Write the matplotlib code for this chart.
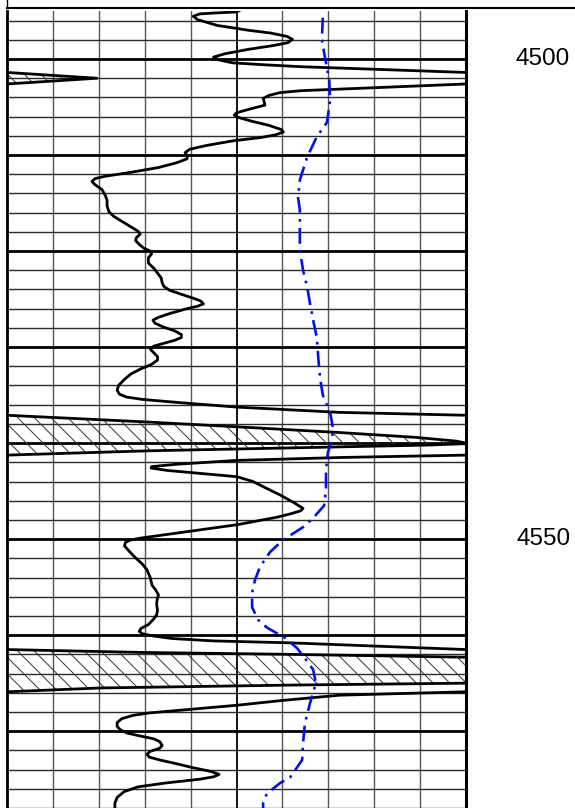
import numpy as np
import matplotlib
matplotlib.use("Agg")
import matplotlib.pyplot as plt
from matplotlib.lines import Line2D

# depth track limits
depth_top = 4495.0
depth_bottom = 4578.0
scale_min, scale_max = 0, 10

# black log curve (values above 10 wrap back onto the track)
gr_depth = [4494.9, 4495.1, 4495.2, 4495.3, 4495.55, 4495.9, 4496.5, 4497.0, 4497.3, 4497.65,
            4497.95, 4498.3, 4498.6, 4499.0, 4499.45, 4499.8, 4500.1, 4500.4, 4500.6, 4500.8,
            4501.4, 4502.0, 4502.6,
            4503.3, 4503.5, 4503.8, 4504.1, 4504.4, 4504.8, 4505.2, 4505.6, 4505.85, 4506.1,
            4506.5, 4506.9, 4507.35, 4507.6, 4507.9, 4508.2, 4508.5, 4509.0, 4509.4, 4509.75,
            4510.1, 4510.4, 4510.8, 4511.3, 4511.8, 4512.2, 4512.45, 4512.75, 4513.1, 4513.6,
            4514.2, 4514.7, 4515.3, 4515.9, 4516.4, 4516.9, 4517.5, 4517.95, 4518.25, 4518.6,
            4518.9, 4519.3, 4519.7, 4520.0, 4520.3, 4520.7, 4521.25, 4521.8, 4522.3, 4522.8,
            4523.3, 4523.7, 4524.1, 4524.5, 4524.9, 4525.2, 4525.5, 4525.75, 4526.0, 4526.5,
            4526.9, 4527.2, 4527.5, 4527.9, 4528.3, 4528.7, 4529.0, 4529.3, 4529.6, 4529.9,
            4530.2, 4530.6, 4531.0, 4531.35, 4531.8, 4532.3, 4532.8, 4533.4, 4534.0, 4534.5,
            4534.9, 4535.2, 4535.45, 4535.8, 4536.25, 4536.8, 4537.1,
            4537.8, 4538.3, 4538.9, 4539.4, 4539.8, 4540.05, 4540.2, 4540.5, 4540.8, 4541.25,
            4541.5, 4541.8, 4542.2, 4542.45, 4542.6, 4542.85, 4543.5, 4544.0, 4544.7, 4545.4,
            4546.2, 4546.8, 4547.05, 4547.4, 4547.7, 4548.5, 4549.3, 4549.9, 4550.1, 4550.35,
            4550.7, 4551.2, 4551.9, 4552.6, 4553.2, 4554.0, 4554.8, 4555.3, 4555.8, 4556.3,
            4556.8, 4557.4, 4557.9, 4558.4, 4558.9, 4559.3, 4559.6, 4559.85, 4560.1, 4560.35,
            4560.6, 4560.8, 4561.5,
            4561.8, 4562.0, 4562.3, 4563.6, 4565.0, 4565.2, 4565.5, 4565.9,
            4566.25, 4566.8, 4567.3, 4567.8, 4568.1, 4568.35, 4568.7, 4569.1, 4569.5, 4569.9,
            4570.2, 4570.5, 4570.8, 4571.1, 4571.5, 4571.8, 4572.1, 4572.4, 4572.7, 4573.0,
            4573.4, 4573.8, 4574.2, 4574.5, 4574.75, 4575.0, 4575.4, 4575.8, 4576.3, 4576.9,
            4577.5, 4578.2]
gr_value = [5.08, 5.00, 4.55, 4.20, 4.06, 4.15, 4.58, 5.25, 5.75, 6.10,
            6.22, 6.12, 5.80, 5.25, 4.75, 4.50, 4.62, 4.92, 5.60, 6.40,
            10.0, 11.96, 10.0,
            6.40, 5.95, 5.70, 5.58, 5.60, 5.62, 5.30, 5.00, 4.95, 5.05,
            5.35, 5.70, 5.98, 6.02, 5.85, 5.50, 4.95, 4.35, 3.98, 3.88,
            3.93, 3.92, 3.70, 3.30, 2.70, 2.15, 1.92, 1.85, 1.92, 2.07,
            2.14, 2.18, 2.18, 2.22, 2.33, 2.50, 2.70, 2.86, 2.90, 2.82,
            2.80, 2.88, 2.98, 3.12, 3.15, 3.08, 3.08, 3.20, 3.28, 3.36,
            3.38, 3.42, 3.55, 3.80, 4.05, 4.22, 4.28, 4.15, 3.92, 3.55,
            3.30, 3.18, 3.22, 3.40, 3.65, 3.80, 3.80, 3.65, 3.42, 3.20,
            3.12, 3.20, 3.28, 3.28, 3.15, 2.90, 2.70, 2.55, 2.43, 2.40,
            2.45, 2.60, 2.95, 3.80, 5.01, 7.25, 10.0,
            13.05, 15.0, 17.25, 18.9, 19.8, 20.05, 19.2, 16.17, 13.1, 10.0,
            7.25, 5.01, 3.70, 3.15, 3.14, 3.50, 5.01, 5.36, 5.65, 5.95,
            6.25, 6.45, 6.40, 6.15, 5.90, 5.01, 3.80, 2.90, 2.68, 2.58,
            2.56, 2.65, 2.79, 2.95, 3.05, 3.12, 3.16, 3.24, 3.30, 3.27,
            3.26, 3.28, 3.26, 3.18, 3.08, 2.92, 2.88, 2.95, 3.20, 3.60,
            4.50, 6.17, 10.0,
            12.96, 16.17, 20.0, 23.0, 20.0, 16.17, 12.03, 10.0,
            7.25, 6.00, 5.01, 3.80, 3.10, 2.75, 2.50, 2.40, 2.40, 2.48,
            2.62, 2.90, 3.20, 3.33, 3.38, 3.32, 3.12, 3.05, 3.10, 3.33,
            3.70, 4.05, 4.45, 4.62, 4.50, 4.20, 3.45, 2.85, 2.55, 2.40,
            2.35, 2.35]

# blue dash-dot curve
blue_depth = [4495.7, 4498.0, 4499.9, 4502.2, 4504.3, 4506.6, 4508.1, 4510.2, 4512.6,
              4514.4, 4515.7, 4517.6, 4519.9, 4522.0, 4523.75, 4525.4, 4527.2, 4529.0, 4531.0,
              4533.2, 4535.0, 4536.8, 4538.4, 4539.7, 4541.0, 4542.8, 4544.9, 4546.5, 4547.8,
              4548.75, 4550.1, 4551.35, 4552.9, 4554.3, 4555.6, 4557.1, 4558.4, 4559.2, 4560.3,
              4561.35, 4562.4, 4563.6, 4565.0, 4566.0, 4567.1, 4569.2, 4571.25, 4573.0, 4574.8,
              4575.4, 4576.5, 4577.5, 4578.2]
blue_value = [6.88, 6.86, 6.93, 7.02, 7.04, 6.97, 6.75, 6.54, 6.38,
              6.34, 6.38, 6.38, 6.38, 6.45, 6.54, 6.60, 6.67, 6.75, 6.78,
              6.82, 6.88, 7.04, 7.10, 7.08, 6.99, 6.95, 6.95, 6.91, 6.67,
              6.45, 6.01, 5.73, 5.51, 5.40, 5.34, 5.34, 5.47, 5.66, 6.06,
              6.32, 6.49, 6.67, 6.73, 6.67, 6.60, 6.49, 6.45, 6.43, 6.17,
              5.95, 5.66, 5.58, 5.58]

depth_labels = [4500, 4550]

W, H = 575, 808
plt.rcParams['hatch.linewidth'] = 0.7
fig = plt.figure(figsize=(W / 100, H / 100), dpi=100)
ax = fig.add_axes([7 / W, 0, 459 / W, 797 / H])
ax.set_xlim(scale_min, scale_max)
ax.set_ylim(depth_bottom, depth_top)
ax.set_xticks([])
ax.set_yticks([])
for side in ['top', 'bottom']:
    ax.spines[side].set_visible(False)
ax.spines['left'].set_linewidth(2.0)
ax.spines['right'].set_linewidth(2.2)

# grid
for x in range(1, 10):
    ax.axvline(x, color='black' if x == 5 else '#555555', lw=1.3 if x == 5 else 1.0, zorder=1)
for d in range(4496, 4579, 2):
    if d % 10 == 0:
        ax.axhline(d, color='black', lw=2.0, zorder=1)
    else:
        ax.axhline(d, color='#2a2a2a', lw=1.0, zorder=1)

# black curve and its wrapped part
gd = np.array(gr_depth)
gv = np.array(gr_value)
ax.plot(gv, gd, color='black', lw=2.0, zorder=3, solid_joinstyle='round')
wrap = gv >= 10
wv = np.where(wrap, gv - 10, np.nan)
ax.fill_betweenx(gd, 0, np.where(wrap, gv - 10, 0), where=wrap, facecolor='none',
                 edgecolor='#333333', linewidth=0, hatch='\\\\', zorder=2)
ax.plot(wv, gd, color='black', lw=2.0, zorder=3)

# blue curve
ax.plot(blue_value, blue_depth, color='#0010ee', lw=1.9, linestyle=(0, (6, 2.4, 1, 2.4)), zorder=3)

# depth labels
for d in depth_labels:
    ax.text(1.168, d, str(d), transform=ax.get_yaxis_transform(), ha='center', va='center',
            fontsize=17.5, family='Liberation Sans', clip_on=False)

# header frame lines
fig.add_artist(Line2D([7 / W, 1], [1 - 8 / H, 1 - 8 / H], color='black', lw=1.5, transform=fig.transFigure))
fig.add_artist(Line2D([7 / W, 7 / W], [1 - 8 / H, 1], color='black', lw=1.0, transform=fig.transFigure))

fig.savefig('out.png', dpi=100)
